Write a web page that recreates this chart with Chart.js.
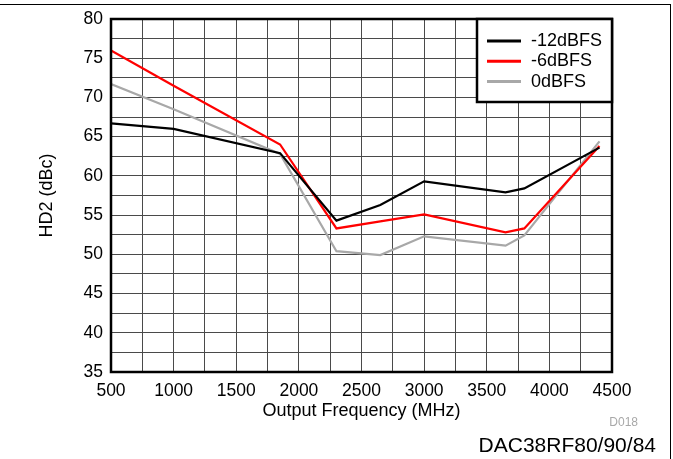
<!DOCTYPE html>
<html>
<head>
<meta charset="utf-8">
<script src="https://cdn.jsdelivr.net/npm/chart.js@4/dist/chart.umd.min.js"></script>
<style>
  html, body { margin: 0; padding: 0; background: #fff; }
  #wrap { position: relative; width: 673px; height: 459px; overflow: hidden; font-family: "Liberation Sans", Arial, sans-serif; }
  #frame { position: absolute; left: 0; top: 4px; width: 671px; height: 460px; border-top: 1px solid #000; border-right: 1px solid #000; box-sizing: border-box; }
  #chart { position: absolute; left: 0; top: 0; }
  #code { position: absolute; right: 35px; top: 415px; font-size: 12px; color: #a8a8a8; }
  #part { position: absolute; right: 17px; top: 433px; font-size: 21px; color: #000; }
</style>
</head>
<body>
<div id="wrap">
  <div id="frame"></div>
  <canvas id="chart" width="673" height="459"></canvas>
  <div id="code">D018</div>
  <div id="part">DAC38RF80/90/84</div>
</div>
<script>
// Output frequency (MHz) of each measurement
const frequencies = [500, 1000, 1850, 2300, 2650, 3000, 3650, 3800, 4400];

// HD2 (dBc) at three output levels
const hd2Minus12 = [66.7, 66.0, 62.9, 54.3, 56.3, 59.3, 57.9, 58.4, 63.6];
const hd2Minus6  = [76.0, 71.5, 64.0, 53.3, 54.2, 55.1, 52.8, 53.3, 63.8];
const hd2Zero    = [71.7, 68.5, 62.8, 50.4, 49.9, 52.3, 51.1, 52.4, 64.4];

const seriesNames = ['-12dBFS', '-6dBFS', '0dBFS'];

// Axis ranges and tick labels
const xTickLabels = [500, 1000, 1500, 2000, 2500, 3000, 3500, 4000, 4500];
const yTickLabels = [35, 40, 45, 50, 55, 60, 65, 70, 75, 80];

const toPoints = ys => frequencies.map((f, i) => ({ x: f, y: ys[i] }));

// Heavy frame round the plot area
const plotFrame = {
  id: 'plotFrame',
  afterDatasetsDraw(chart) {
    const { ctx, chartArea: a } = chart;
    ctx.save();
    ctx.strokeStyle = '#000';
    ctx.lineWidth = 2.5;
    ctx.strokeRect(a.left, a.top, a.right - a.left, a.bottom - a.top);
    ctx.restore();
  }
};

// Legend box tucked into the upper-right corner of the plot
const cornerLegend = {
  id: 'cornerLegend',
  afterDraw(chart) {
    const { ctx, chartArea: a } = chart;
    const boxW = 135, boxH = 83;
    const x0 = a.right - boxW, y0 = a.top;
    ctx.save();
    ctx.fillStyle = '#fff';
    ctx.fillRect(x0, y0, boxW, boxH);
    ctx.strokeStyle = '#000';
    ctx.lineWidth = 2.5;
    ctx.strokeRect(x0, y0, boxW, boxH);
    ctx.font = '18px "Liberation Sans", Arial, sans-serif';
    ctx.textBaseline = 'middle';
    chart.data.datasets.forEach((ds, i) => {
      const yy = y0 + 22 + i * 20.3;
      ctx.strokeStyle = ds.borderColor;
      ctx.lineWidth = 3;
      ctx.beginPath();
      ctx.moveTo(x0 + 10, yy);
      ctx.lineTo(x0 + 44, yy);
      ctx.stroke();
      ctx.fillStyle = '#000';
      ctx.fillText(ds.label, x0 + 54, yy);
    });
    ctx.restore();
  }
};

const tickFont = { family: '"Liberation Sans", Arial, sans-serif', size: 17.5 };
const titleFont = { family: '"Liberation Sans", Arial, sans-serif', size: 18 };

new Chart(document.getElementById('chart'), {
  type: 'line',
  data: {
    datasets: [
      { label: seriesNames[0], data: toPoints(hd2Minus12), borderColor: '#000000' },
      { label: seriesNames[1], data: toPoints(hd2Minus6),  borderColor: '#ff0000' },
      { label: seriesNames[2], data: toPoints(hd2Zero),    borderColor: '#a8a8a8' }
    ].map(d => Object.assign(d, { borderWidth: 2.2, pointRadius: 0, tension: 0, fill: false }))
  },
  options: {
    responsive: false,
    animation: false,
    devicePixelRatio: 1,
    layout: { padding: { left: 0, top: 19, right: 61, bottom: 0 } },
    plugins: { legend: { display: false }, tooltip: { enabled: false } },
    scales: {
      x: {
        type: 'linear',
        min: xTickLabels[0],
        max: xTickLabels[xTickLabels.length - 1],
        afterFit: s => { s.height = 87; },
        grid: { color: '#4a4a4a', lineWidth: 1, drawTicks: false },
        border: { display: false },
        ticks: {
          stepSize: 250,
          autoSkip: false,
          maxRotation: 0,
          padding: 9,
          color: '#000',
          font: tickFont,
          callback: v => xTickLabels.includes(v) ? String(v) : ''
        },
        title: {
          display: true,
          text: 'Output Frequency (MHz)',
          color: '#000',
          font: titleFont,
          padding: { top: 0, bottom: 37 }
        }
      },
      y: {
        type: 'linear',
        min: yTickLabels[0],
        max: yTickLabels[yTickLabels.length - 1],
        afterFit: s => { s.width = 111; },
        grid: { color: '#4a4a4a', lineWidth: 1, drawTicks: false },
        border: { display: false },
        ticks: {
          stepSize: 2.5,
          autoSkip: false,
          padding: 8,
          color: '#000',
          font: tickFont,
          callback: v => yTickLabels.includes(v) ? String(v) : ''
        },
        title: {
          display: true,
          text: 'HD2 (dBc)',
          color: '#000',
          font: titleFont,
          padding: { top: 36, bottom: 0 }
        }
      }
    }
  },
  plugins: [plotFrame, cornerLegend]
});
</script>
</body>
</html>
